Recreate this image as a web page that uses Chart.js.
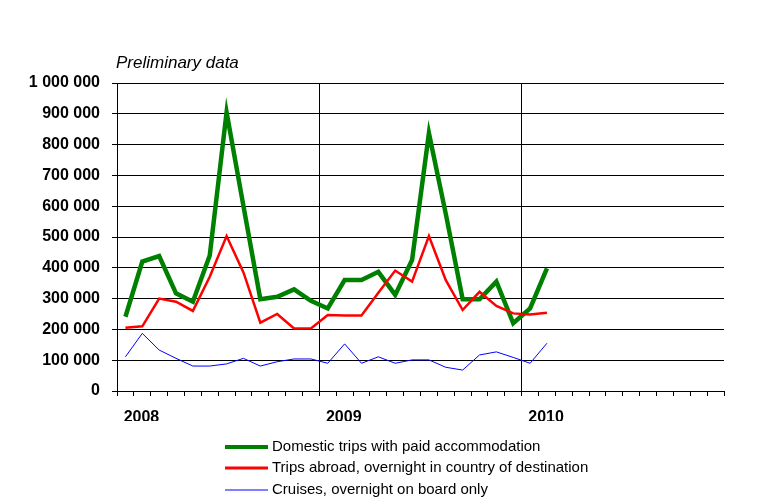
<!DOCTYPE html>
<html>
<head>
<meta charset="utf-8">
<script src="https://cdn.jsdelivr.net/npm/chart.js@4"></script>
<style>
  html, body { margin: 0; padding: 0; background: #fff; }
  #wrap { width: 763px; height: 497px; position: relative; }
</style>
</head>
<body>
<div id="wrap"><canvas id="chartTrips"></canvas></div>
<script>
// Months Jan 2008 .. Dec 2010 (36 categories), year labels on January
const years = ['2008', '2009', '2010'];
const months = [];
years.forEach(y => {
  for (let m = 1; m <= 12; m++) months.push(y + '-' + String(m).padStart(2, '0'));
});

// Values Jan 2008 .. Feb 2010
const domesticTrips = [241000, 420000, 438000, 317000, 290000, 440000, 905000, 600000, 298000, 306000, 330000, 293000,
                       268000, 360000, 360000, 387000, 312000, 425000, 837000, 575000, 298000, 298000, 355000, 220000,
                       268000, 398000];
const tripsAbroad = [205000, 210000, 300000, 290000, 260000, 371000, 503000, 385000, 222000, 250000, 203000, 203000,
                     247000, 245000, 245000, 319000, 391000, 355000, 503000, 360000, 263000, 322000, 276000, 252000,
                     248000, 254000];
const cruises = [111000, 187000, 133000, 106000, 81000, 81000, 88000, 106000, 81000, 95000, 104000, 104000,
                 90000, 153000, 90000, 111000, 90000, 101000, 101000, 77000, 68000, 117000, 127000, 109000,
                 90000, 155000];

const seriesNames = [
  'Domestic trips with paid accommodation',
  'Trips abroad, overnight in country of destination',
  'Cruises, overnight on board only'
];
const noteText = 'Preliminary data';

// Formats 1000000 as "1 000 000"
function spaced(v) {
  return String(v).replace(/\B(?=(\d{3})+(?!\d))/g, ' ');
}

// Note above the plot and the stacked legend below
const extrasPlugin = {
  id: 'extras',
  afterDraw(chart) {
    const ctx = chart.ctx;
    const area = chart.chartArea;
    ctx.save();
    ctx.fillStyle = '#000';
    ctx.font = 'italic 17px "Liberation Sans", Arial, sans-serif';
    ctx.textBaseline = 'alphabetic';
    ctx.textAlign = 'left';
    ctx.fillText(noteText, area.left - 1, 68);

    ctx.font = '15px "Liberation Sans", Arial, sans-serif';
    ctx.textBaseline = 'middle';
    const rows = [447, 468, 490];
    chart.data.datasets.forEach((ds, i) => {
      const y = rows[i];
      ctx.strokeStyle = ds.borderColor;
      ctx.lineWidth = ds.legendWidth;
      ctx.beginPath();
      ctx.moveTo(225, y);
      ctx.lineTo(268, y);
      ctx.stroke();
      ctx.fillText(ds.label, 272, y);
    });
    ctx.restore();
  }
};

const chart = new Chart(document.getElementById('chartTrips'), {
  type: 'line',
  data: {
    labels: months,
    datasets: [
      { label: seriesNames[0], data: domesticTrips, borderColor: '#008000', borderWidth: 4.5, legendWidth: 4, order: 3 },
      { label: seriesNames[1], data: tripsAbroad, borderColor: '#ff0000', borderWidth: 2.5, legendWidth: 3, order: 2 },
      { label: seriesNames[2], data: cruises, borderColor: '#0000ff', borderWidth: 1, legendWidth: 1, order: 1 }
    ]
  },
  options: {
    responsive: true,
    maintainAspectRatio: false,
    animation: false,
    layout: { padding: { top: 83, right: 39, bottom: 76, left: 0 } },
    elements: {
      point: { radius: 0 },
      line: { tension: 0, fill: false }
    },
    plugins: {
      legend: { display: false },
      tooltip: { enabled: false }
    },
    scales: {
      x: {
        type: 'category',
        offset: true,
        afterFit(scale) { scale.height = 30; },
        grid: {
          offset: true,
          drawTicks: true,
          tickLength: 5,
          tickColor: '#000',
          color: c => (c.index === 12 || c.index === 24 || c.index === 36) ? '#000' : 'rgba(0,0,0,0)',
          lineWidth: 1
        },
        border: { display: true, color: '#000', width: 1 },
        ticks: {
          autoSkip: false,
          maxRotation: 0,
          minRotation: 0,
          padding: 12,
          labelOffset: 16,
          color: '#000',
          font: { family: '"Liberation Sans", Arial, sans-serif', size: 16, weight: 'bold' },
          callback: function(val, i) {
            return i % 12 === 0 ? years[i / 12] : '';
          }
        }
      },
      y: {
        min: 0,
        max: 1000000,
        afterFit(scale) { scale.width = 117; },
        grid: {
          color: '#000',
          lineWidth: 1,
          tickLength: 5,
          tickColor: '#000'
        },
        border: { display: true, color: '#000', width: 1 },
        ticks: {
          stepSize: 100000,
          padding: 12,
          color: '#000',
          font: { family: '"Liberation Sans", Arial, sans-serif', size: 16, weight: 'bold' },
          callback: v => spaced(v)
        }
      }
    }
  },
  plugins: [extrasPlugin]
});
</script>
</body>
</html>
